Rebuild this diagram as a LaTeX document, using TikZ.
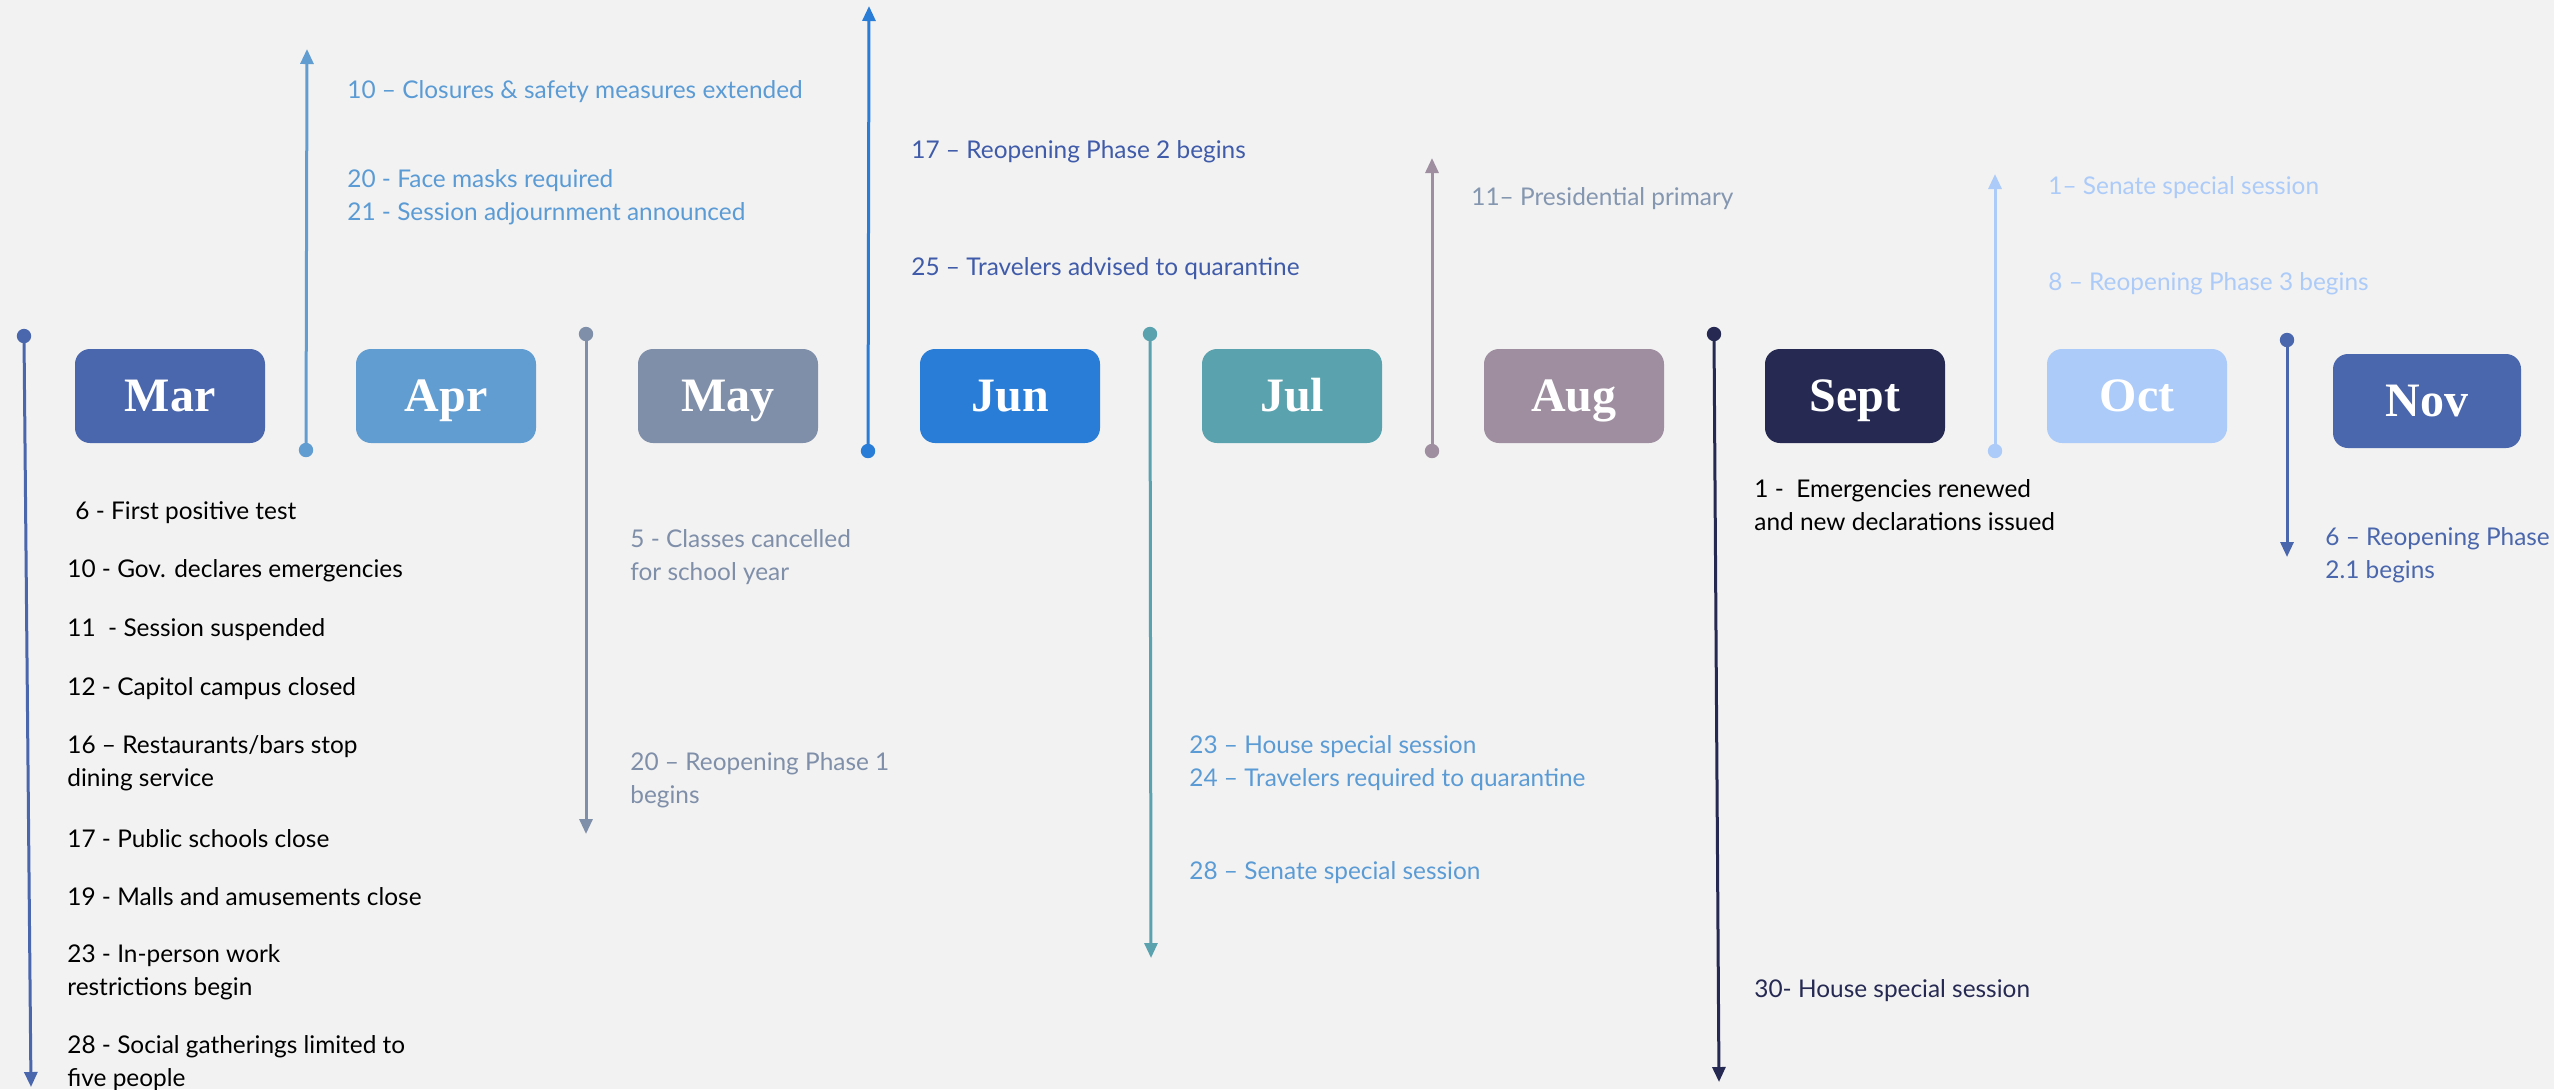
\documentclass[tikz,border=0pt]{standalone}
\usepackage{fontspec}
\setmainfont{Lato}
\newfontfamily\monthfont{Liberation Serif}
\usetikzlibrary{arrows.meta}
\definecolor{bg}{HTML}{F2F2F2}
\definecolor{cMar}{HTML}{4A66AC}
\definecolor{cApr}{HTML}{629DD1}
\definecolor{cMay}{HTML}{7F8FA9}
\definecolor{cJun}{HTML}{2A7DD6}
\definecolor{cJul}{HTML}{5AA2AE}
\definecolor{cAug}{HTML}{9E8E9F}
\definecolor{cSep}{HTML}{262A53}
\definecolor{cOct}{HTML}{ACCBF9}
\definecolor{cNov}{HTML}{4A66AC}
\definecolor{tApr}{HTML}{5B9BD5}
\definecolor{tMay}{HTML}{7F8FA9}
\definecolor{tJun}{HTML}{3F5BA9}
\definecolor{tAug}{HTML}{8496B0}
\definecolor{tNov}{HTML}{4A66AC}
\tikzset{
  mbox/.style={rounded corners=7.5pt, minimum width=90pt, minimum height=47pt,
    inner sep=0pt, text=white, text height=15.6pt, text depth=0pt,
    font=\monthfont\bfseries\fontsize{24}{28}\selectfont},
  evt/.style={anchor=west, align=left, inner sep=0pt,
    font=\fontsize{12.2}{16.5}\selectfont},
  conn/.style={line width=1.5pt, -{Triangle[width=6.5pt,length=7.5pt]}},
}
\begin{document}
\begin{tikzpicture}[x=0.5pt,y=-0.5pt]
\fill[bg] (0,0) rectangle (2554,1089);
\useasboundingbox (0,0) rectangle (2554,1089);

% month boxes
\node[mbox, fill=cMar, minimum width=95pt] (mar) at (170,396) {Mar};
\node[mbox, fill=cApr] (apr) at (446,396) {Apr};
\node[mbox, fill=cMay] (may) at (728,396) {May};
\node[mbox, fill=cJun] (jun) at (1010,396) {Jun};
\node[mbox, fill=cJul] (jul) at (1292,396) {Jul};
\node[mbox, fill=cAug] (aug) at (1574,396) {Aug};
\node[mbox, fill=cSep] (sep) at (1855,396) {Sept};
\node[mbox, fill=cOct] (oct) at (2137,396) {Oct};
\node[mbox, fill=cNov, minimum width=94pt] (nov) at (2427,401) {Nov};

% connector end points
\coordinate (dMar) at (24,336);   \coordinate (eMar) at (31,1087);
\coordinate (dApr) at (306,450);  \coordinate (eApr) at (307,49);
\coordinate (dMay) at (586,334);  \coordinate (eMay) at (586,834);
\coordinate (dJun) at (868,451);  \coordinate (eJun) at (869,6);
\coordinate (dJul) at (1150,334); \coordinate (eJul) at (1151,958);
\coordinate (dAug) at (1432,451); \coordinate (eAug) at (1432,158);
\coordinate (dSep) at (1714,334); \coordinate (eSep) at (1719,1082);
\coordinate (dOct) at (1995,451); \coordinate (eOct) at (1995,174);
\coordinate (dNov) at (2287,340); \coordinate (eNov) at (2287,557);

\foreach \m in {Mar,Apr,May,Jun,Jul,Aug,Sep,Oct,Nov}{
  \draw[conn, c\m] (d\m) -- (e\m);
  \fill[c\m] (d\m) circle (3.6pt);
}

% March events
\node[evt] (m1) at (75,513) {6 - First positive test};
\node[evt] (m2) at (67,571) {10 - Gov. declares emergencies};
\node[evt] (m3) at (67,630) {11 \ - Session suspended};
\node[evt] (m4) at (67,689) {12 - Capitol campus closed};
\node[evt] (m5) at (67,763) {16 -- Restaurants/bars stop\\dining service};
\node[evt] (m6) at (67,839) {17 - Public schools close};
\node[evt] (m7) at (67,897) {19 - Malls and amusements close};
\node[evt] (m8) at (67,972) {23 - In-person work\\restrictions begin};
\node[evt] (m9) at (67,1063) {28 - Social gatherings limited to\\five people};

% April events
\node[evt, text=tApr] (a1) at (347,92) {10 -- Closures \& safety measures extended};
\node[evt, text=tApr] (a2) at (347,197) {20 - Face masks required\\21 - Session adjournment announced};

% May events
\node[evt, text=tMay] (y1) at (630,557) {5 - Classes cancelled\\for school year};
\node[evt, text=tMay] (y2) at (630,780) {20 -- Reopening Phase 1\\begins};

% June events
\node[evt, text=tJun] (j1) at (911,152) {17 -- Reopening Phase 2 begins};
\node[evt, text=tJun] (j2) at (911,269) {25 -- Travelers advised to quarantine};

% July events
\node[evt, text=tApr] (l1) at (1189,763) {23 -- House special session\\24 -- Travelers required to quarantine};
\node[evt, text=tApr] (l2) at (1189,873) {28 -- Senate special session};

% August event
\node[evt, text=tAug] (g1) at (1471,199) {11-- Presidential primary};

% September events
\node[evt] (s1) at (1754,505) {1 - \ Emergencies renewed\\and new declarations issued};
\node[evt, text=cSep] (s2) at (1754,991) {30- House special session};

% October events
\node[evt, text=cOct] (o1) at (2048,188) {1-- Senate special session};
\node[evt, text=cOct] (o2) at (2048,284) {8 -- Reopening Phase 3 begins};

% November event
\node[evt, text=tNov] (n1) at (2325,555) {6 -- Reopening Phase\\2.1 begins};
\end{tikzpicture}
\end{document}
